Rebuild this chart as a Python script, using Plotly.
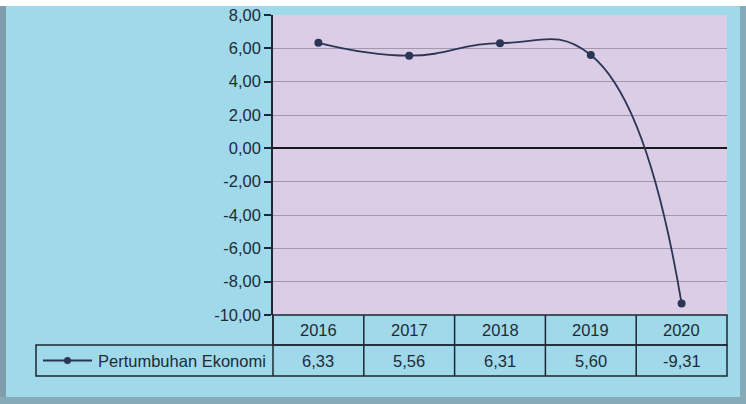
import plotly.graph_objects as go

years = ["2016", "2017", "2018", "2019", "2020"]
values = [6.33, 5.56, 6.31, 5.60, -9.31]
value_labels = ["6,33", "5,56", "6,31", "5,60", "-9,31"]
series_name = "Pertumbuhan Ekonomi"
y_ticks = [8, 6, 4, 2, 0, -2, -4, -6, -8, -10]
y_tick_labels = ["8,00", "6,00", "4,00", "2,00", "0,00", "-2,00", "-4,00", "-6,00", "-8,00", "-10,00"]

TOP_BAND = 6          # white strip above the chart (page background)
W, H = 746, 404 - TOP_BAND
# positions in figure pixels (page y minus TOP_BAND)
L, R, T, B = 273, 727, 15 - TOP_BAND, 315 - TOP_BAND
PW, PH = R - L, B - T

def px(x):
    return (x - L) / PW

def py(y_page):
    return (B - (y_page - TOP_BAND)) / PH

BG = "#a0d9e9"
PLOT_BG = "#dbcde6"
LINE = "#2b3556"
GRID = "#a497ad"
BORDER = "#1c2733"
TXT = "#1e2b38"
FONT = "Liberation Sans, Arial, sans-serif"
FS = 16.5

idx = list(range(len(years)))

fig = go.Figure()
fig.add_trace(go.Scatter(
    x=idx, y=values, mode="lines+markers",
    line=dict(color=LINE, width=1.8, shape="spline", smoothing=1.3),
    marker=dict(color=LINE, size=8),
    name=series_name, showlegend=False, hoverinfo="skip",
))

shapes = []
# frame shading
shapes.append(dict(type="rect", xref="paper", yref="paper", x0=px(0), x1=px(6), y0=py(6), y1=py(404),
                   fillcolor="#7f9eab", line=dict(width=0), layer="below"))
shapes.append(dict(type="rect", xref="paper", yref="paper", x0=px(740), x1=px(W), y0=py(6), y1=py(404),
                   fillcolor="#86aab7", line=dict(width=0), layer="below"))
shapes.append(dict(type="rect", xref="paper", yref="paper", x0=px(0), x1=px(W), y0=py(397), y1=py(404),
                   fillcolor="#86aab7", line=dict(width=0), layer="below"))

# table borders (page y coordinates)
row1_top, row1_bot, row2_bot = 315, 345, 376
label_left = 36
col_edges = [L + i * PW / len(years) for i in range(len(years) + 1)]
bl = dict(color=BORDER, width=1.5)
shapes.append(dict(type="rect", xref="paper", yref="paper", x0=px(L), x1=px(R), y0=py(row1_top), y1=py(row1_bot), line=bl))
shapes.append(dict(type="rect", xref="paper", yref="paper", x0=px(label_left), x1=px(R), y0=py(row1_bot), y1=py(row2_bot), line=bl))
for xe in col_edges[:-1]:
    shapes.append(dict(type="line", xref="paper", yref="paper", x0=px(xe), x1=px(xe), y0=py(row1_top), y1=py(row2_bot), line=bl))

# legend key in label cell
ly = (row1_bot + row2_bot) / 2
shapes.append(dict(type="line", xref="paper", yref="paper", x0=px(43), x1=px(92), y0=py(ly), y1=py(ly),
                   line=dict(color=LINE, width=1.8)))
shapes.append(dict(type="circle", xref="paper", yref="paper", x0=px(64), x1=px(71), y0=py(ly - 3.5), y1=py(ly + 3.5),
                   fillcolor=LINE, line=dict(color=LINE, width=0)))

annotations = []
for i, (yr, vl) in enumerate(zip(years, value_labels)):
    cx = (col_edges[i] + col_edges[i + 1]) / 2
    annotations.append(dict(xref="paper", yref="paper", x=px(cx), y=py((row1_top + row1_bot) / 2),
                            text=yr, showarrow=False, font=dict(family=FONT, size=FS, color=TXT),
                            xanchor="center", yanchor="middle"))
    annotations.append(dict(xref="paper", yref="paper", x=px(cx), y=py(ly),
                            text=vl, showarrow=False, font=dict(family=FONT, size=FS, color=TXT),
                            xanchor="center", yanchor="middle"))
annotations.append(dict(xref="paper", yref="paper", x=px(268), y=py(ly), text=series_name, showarrow=False,
                        font=dict(family=FONT, size=FS, color=TXT), xanchor="right", yanchor="middle"))

fig.update_layout(
    width=W, height=H,
    margin=dict(l=L, r=W - R, t=T, b=H - B, pad=0, autoexpand=False),
    paper_bgcolor=BG, plot_bgcolor=PLOT_BG,
    font=dict(family=FONT, size=FS, color=TXT),
    shapes=shapes, annotations=annotations,
    xaxis=dict(range=[-0.5, len(years) - 0.5], showticklabels=False, showgrid=False, zeroline=False,
               showline=False, fixedrange=True),
    yaxis=dict(range=[-10, 8], tickmode="array", tickvals=y_ticks, ticktext=y_tick_labels,
               ticklabeloverflow="allow",
               showgrid=True, gridcolor=GRID, gridwidth=1,
               zeroline=True, zerolinecolor="#1a1a1a", zerolinewidth=1.8,
               showline=True, linecolor=BORDER, linewidth=1.5,
               ticks="outside", ticklen=7, tickcolor=BORDER, tickwidth=1.5,
               tickfont=dict(family=FONT, size=FS, color=TXT), fixedrange=True),
)

fig.write_html("out.html", config={"displayModeBar": False},
               post_script=("document.body.style.margin='0';"
                            "document.body.style.padding='%dpx 0 0 0';"
                            "document.body.style.background='#ffffff';" % TOP_BAND))
